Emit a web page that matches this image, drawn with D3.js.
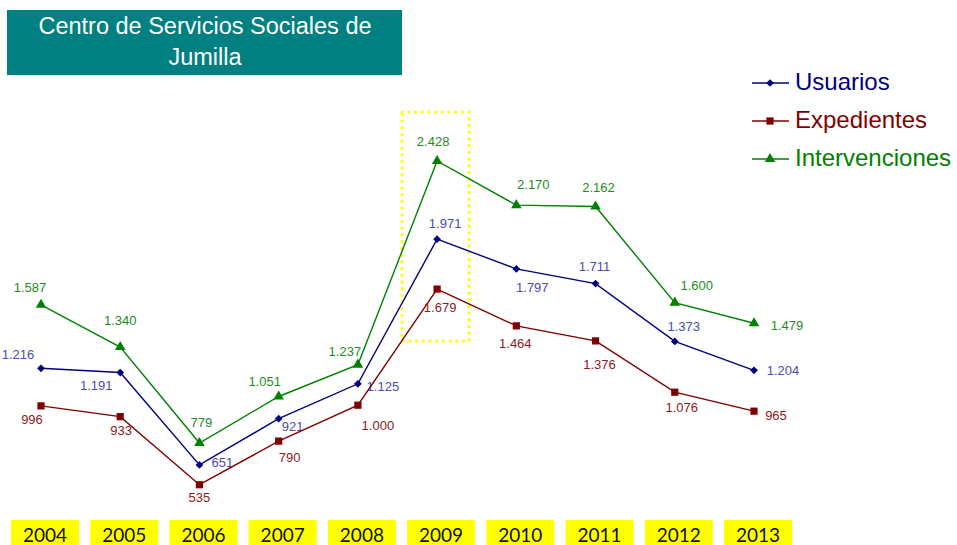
<!DOCTYPE html>
<html>
<head>
<meta charset="utf-8">
<script src="https://cdn.jsdelivr.net/npm/d3@7"></script>
<style>
  body { margin: 0; background: #fff; }
  svg { display: block; }
</style>
</head>
<body>
<svg width="957" height="545"></svg>
<script>
// data
var years = ["2004", "2005", "2006", "2007", "2008", "2009", "2010", "2011", "2012", "2013"];
var usuarios = [1216, 1191, 651, 921, 1125, 1971, 1797, 1711, 1373, 1204];
var expedientes = [996, 933, 535, 790, 1000, 1679, 1464, 1376, 1076, 965];
var intervenciones = [1587, 1340, 779, 1051, 1237, 2428, 2170, 2162, 1600, 1479];
var highlightYear = "2009";

// where each value label sits relative to its point [dx, dy]
var offUsu = [[-23,-14],[-24,13],[23,-2],[14,8],[25,3],[8,-16],[16,19],[-1,-17],[9,-15],[29,0]];
var offExp = [[-9,14],[1,14],[0,13],[11,16],[20,20],[3,18],[-1,18],[4,24],[7,15],[22,4]];
var offInt = [[-11,-17],[0,-27],[2,-20],[-14,-15],[-13,-13],[-4,-20],[17,-21],[3,-19],[22,-17],[33,2]];

var series = [
  { name: "Usuarios", values: usuarios, color: "#000080", label: "#4b4bb0", symbol: d3.symbolSquare, size: 30, rot: 45, off: offUsu },
  { name: "Expedientes", values: expedientes, color: "#800000", label: "#8b1a1a", symbol: d3.symbolSquare, size: 52, rot: 0, off: offExp },
  { name: "Intervenciones", values: intervenciones, color: "#008000", label: "#1e8c1e", symbol: d3.symbolTriangle, size: 48, rot: 0, off: offInt }
];

var fmt = function(v) { return d3.format(",")(v).replace(/,/g, "."); };

var svg = d3.select("svg");

var x = d3.scalePoint().domain(years).range([41, 754]);
var y = d3.scaleLinear().domain([500, 2500]).range([490.7, 148.7]);

// title box
svg.append("rect").attr("x", 7).attr("y", 10).attr("width", 395).attr("height", 65).attr("fill", "#008080");
svg.append("text")
  .attr("x", 205).attr("y", 26)
  .attr("text-anchor", "middle").attr("dominant-baseline", "central")
  .attr("font-family", "Liberation Sans, Arial, sans-serif").attr("font-size", 23.5).attr("fill", "#fff")
  .text("Centro de Servicios Sociales de");
svg.append("text")
  .attr("x", 205).attr("y", 57)
  .attr("text-anchor", "middle").attr("dominant-baseline", "central")
  .attr("font-family", "Liberation Sans, Arial, sans-serif").attr("font-size", 23.5).attr("fill", "#fff")
  .text("Jumilla");

// highlight around 2009
svg.append("rect")
  .attr("x", x(highlightYear) - 35).attr("y", 112)
  .attr("width", 67).attr("height", 229)
  .attr("fill", "none").attr("stroke", "#ffff00")
  .attr("stroke-width", 3.2).attr("stroke-linecap", "round")
  .attr("stroke-dasharray", "0.1 6.6");

// year boxes
var yearG = svg.append("g").selectAll("g")
  .data(years)
  .enter()
  .append("g")
  .attr("transform", d => "translate(" + (x(d) + 4) + ",0)");
yearG.append("rect")
  .attr("x", -34).attr("y", 520).attr("width", 68).attr("height", 25)
  .attr("fill", "#ffff00");
yearG.append("text")
  .attr("x", 0).attr("y", 534)
  .attr("text-anchor", "middle").attr("dominant-baseline", "central")
  .attr("font-family", "Lato, Carlito, sans-serif").attr("font-size", 19).attr("fill", "#111")
  .text(d => d);

var line = d3.line()
  .x((d, i) => x(years[i]))
  .y(d => y(d));

series.forEach(function(s) {
  svg.append("path")
    .datum(s.values)
    .attr("d", line)
    .attr("fill", "none")
    .attr("stroke", s.color)
    .attr("stroke-width", 1.4);

  svg.append("g").selectAll("path")
    .data(s.values)
    .enter()
    .append("path")
    .attr("d", d3.symbol().type(s.symbol).size(s.size))
    .attr("transform", (d, i) => "translate(" + x(years[i]) + "," + y(d) + ") rotate(" + s.rot + ")")
    .attr("fill", s.color);

  svg.append("g").selectAll("text")
    .data(s.values)
    .enter()
    .append("text")
    .attr("x", (d, i) => x(years[i]) + s.off[i][0])
    .attr("y", (d, i) => y(d) + s.off[i][1])
    .attr("text-anchor", "middle").attr("dominant-baseline", "central")
    .attr("font-family", "Liberation Sans, Arial, sans-serif").attr("font-size", 13)
    .attr("fill", s.label)
    .text(d => fmt(d));
});

// legend
var legend = svg.append("g").selectAll("g")
  .data(series)
  .enter()
  .append("g")
  .attr("transform", (d, i) => "translate(752," + (83 + i * 38) + ")");
legend.append("line")
  .attr("x1", 0).attr("x2", 37).attr("y1", 0).attr("y2", 0)
  .attr("stroke", d => d.color).attr("stroke-width", 1.4);
legend.append("path")
  .attr("d", d => d3.symbol().type(d.symbol).size(d.size)())
  .attr("transform", d => "translate(18,0) rotate(" + d.rot + ")")
  .attr("fill", d => d.color);
legend.append("text")
  .attr("x", 43).attr("y", -2)
  .attr("dominant-baseline", "central")
  .attr("font-family", "Liberation Sans, Arial, sans-serif").attr("font-size", 24)
  .attr("fill", d => d.color)
  .text(d => d.name);
</script>
</body>
</html>
